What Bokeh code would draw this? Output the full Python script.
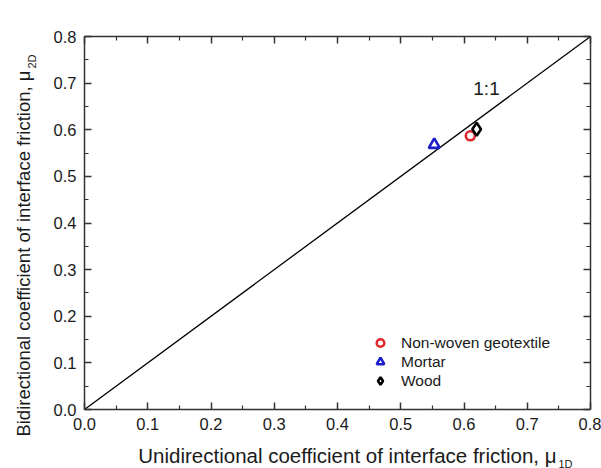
from bokeh.plotting import figure
from bokeh.models import (Range1d, LinearAxis, FixedTicker, Label, Legend,
                          LegendItem, PrintfTickFormatter, CustomJSTickFormatter)
from bokeh.embed import file_html
from bokeh.resources import INLINE

# Coefficients of interface friction: unidirectional (mu_1D) vs bidirectional (mu_2D)
materials = ["Non-woven geotextile", "Mortar", "Wood"]
mu_1d = [0.610, 0.553, 0.620]
mu_2d = [0.587, 0.568, 0.601]
colors = ["#e0282c", "#1c1cc8", "#000000"]

# 1:1 reference line spans the axis range
identity = [0.0, 0.8]

major_ticks = [0.0, 0.1, 0.2, 0.3, 0.4, 0.5, 0.6, 0.7, 0.8]
minor_ticks = [0.05, 0.15, 0.25, 0.35, 0.45, 0.55, 0.65, 0.75]

FONT = "Liberation Sans"
TXT = "#1a1a1a"
AX = "#333333"

# Open marker and its size per material
marker_style = [("circle", 9), ("triangle", 11), ("diamond", 13)]

# Canvas size and the pixel box that holds the 0..0.8 square of data
W, H = 601, 468
BOX_L, BOX_R, BOX_T, BOX_B = 84, 590, 36, 409
LO, HI = identity
sx = (BOX_R - BOX_L) / (HI - LO)
sy = (BOX_B - BOX_T) / (HI - LO)


def cx(px):
    return LO + (px - BOX_L) / sx


def cy(py):
    return LO + (BOX_B - py) / sy


# The frame fills the canvas so titles in the margins are not clipped;
# the axes are pinned to the edges of the data square.
p = figure(width=W, height=H, output_backend="svg", toolbar_location=None,
           x_range=Range1d(cx(0), cx(W)), y_range=Range1d(cy(H), cy(0)),
           min_border=0, min_border_left=0, min_border_right=0,
           min_border_top=0, min_border_bottom=0,
           x_axis_location=None, y_axis_location=None)
p.xgrid.visible = False
p.ygrid.visible = False
p.outline_line_color = None
p.background_fill_color = "white"
p.border_fill_color = "white"


def make_axis(at, labels=True):
    ax = LinearAxis(fixed_location=at, bounds=(LO, HI))
    ax.ticker = FixedTicker(ticks=major_ticks, minor_ticks=minor_ticks)
    ax.axis_line_color = AX
    ax.axis_line_width = 1.5
    ax.major_tick_in = 7
    ax.major_tick_out = 0
    ax.minor_tick_in = 4
    ax.minor_tick_out = 0
    ax.major_tick_line_color = AX
    ax.minor_tick_line_color = AX
    ax.major_tick_line_width = 1.5
    ax.minor_tick_line_width = 1.2
    ax.major_label_text_font = FONT
    ax.major_label_text_font_size = "16.5px"
    ax.major_label_text_color = TXT
    ax.major_label_standoff = 8
    if labels:
        ax.formatter = PrintfTickFormatter(format="%.1f")
    else:
        ax.formatter = CustomJSTickFormatter(code="return ''")
    return ax


p.add_layout(make_axis(LO), "below")
p.add_layout(make_axis(LO), "left")
p.add_layout(make_axis(HI, labels=False), "above")
p.add_layout(make_axis(HI, labels=False), "right")

p.line(identity, identity, line_color="black", line_width=1.3)

items = []
for name, x, y, (m, size), c in zip(materials, mu_1d, mu_2d,
                                    marker_style, colors):
    r = p.scatter([x], [y], marker=m, size=size, fill_color=None,
                  line_color=c, line_width=2.6)
    items.append(LegendItem(label=name, renderers=[r]))

legend = Legend(items=items, location=(369, H - 390), padding=0, margin=0,
                spacing=0, glyph_width=22, glyph_height=19, label_height=19,
                label_standoff=10, border_line_color=None,
                background_fill_alpha=0, label_text_font=FONT,
                label_text_font_size="15.5px", label_text_color=TXT)
p.add_layout(legend, "center")

p.add_layout(Label(x=cx(486), y=cy(88), text="1:1", text_font=FONT,
                   text_font_size="19px", text_color=TXT,
                   text_align="center", text_baseline="alphabetic"))

# Axis titles with subscripted symbols
p.add_layout(Label(x=cx(556), y=cy(455),
                   text="Unidirectional coefficient of interface friction, \u03bc",
                   text_font=FONT, text_font_size="20.5px", text_color=TXT,
                   text_align="right", text_baseline="alphabetic"))
p.add_layout(Label(x=cx(558), y=cy(463),
                   text="1D", text_font=FONT, text_font_size="11px",
                   text_color=TXT, text_align="left",
                   text_baseline="alphabetic"))
p.add_layout(Label(x=cx(23), y=cy(70),
                   text="Bidirectional coefficient of interface friction, \u03bc",
                   angle=1.5707963, text_font=FONT, text_font_size="18.5px",
                   text_color=TXT, text_align="right",
                   text_baseline="alphabetic"))
p.add_layout(Label(x=cx(31), y=cy(68),
                   text="2D", angle=1.5707963, text_font=FONT,
                   text_font_size="11px", text_color=TXT,
                   text_align="left", text_baseline="alphabetic"))

open("out.html", "w").write(file_html(p, INLINE))
